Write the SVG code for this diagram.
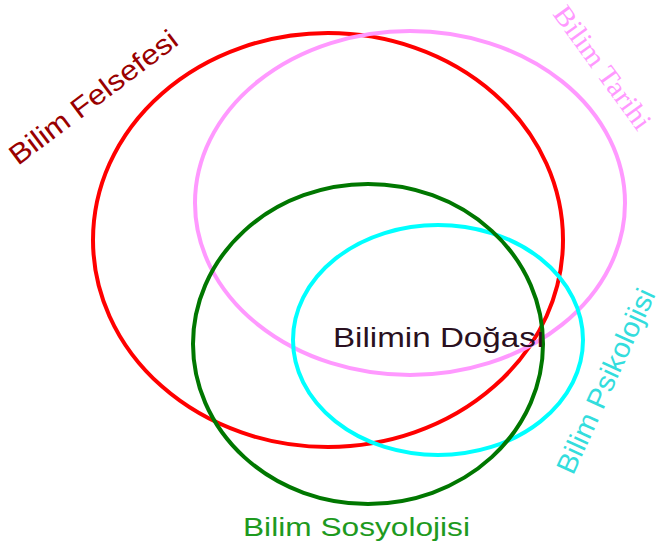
<svg xmlns="http://www.w3.org/2000/svg" width="657" height="552" viewBox="0 0 657 552">
<style>
.e{fill:none;stroke-width:4}
.s{font-family:"Liberation Sans",Arial,sans-serif}
.r{font-family:"Liberation Serif","Times New Roman",serif}
</style>
<rect width="657" height="552" fill="#ffffff"/>
<g id="bilim-felsefesi">
<ellipse class="e" cx="328" cy="240" rx="235" ry="207" stroke="#ff0000"/>
<text class="s" transform="translate(18,166) rotate(-37)" font-size="28" fill="#990000" textLength="203" lengthAdjust="spacingAndGlyphs">Bilim Felsefesi</text>
</g>
<g id="bilim-tarihi">
<ellipse class="e" cx="410" cy="203" rx="215" ry="172" stroke="#ff99ff"/>
<text class="r" transform="translate(552,14) rotate(54)" font-size="28" fill="#ff99ff" textLength="146" lengthAdjust="spacingAndGlyphs">Bilim Tarihi</text>
</g>
<g id="bilim-psikolojisi">
<ellipse class="e" cx="438" cy="340" rx="145" ry="115" stroke="#00ffff"/>
<text class="s" transform="translate(573,476) rotate(-65.5)" font-size="28" fill="#33dddd" textLength="200" lengthAdjust="spacingAndGlyphs">Bilim Psikolojisi</text>
</g>
<g id="bilim-sosyolojisi">
<ellipse class="e" cx="368" cy="344" rx="175" ry="160" stroke="#007700"/>
<text class="s" x="243" y="536" font-size="26" fill="#1e9a1e" textLength="227" lengthAdjust="spacingAndGlyphs">Bilim Sosyolojisi</text>
</g>
<g id="bilimin-dogasi">
<text class="s" x="333" y="347" font-size="28" fill="#2a1020" textLength="212" lengthAdjust="spacingAndGlyphs">Bilimin Doğası</text>
</g>
<g id="connectors"/>
</svg>
